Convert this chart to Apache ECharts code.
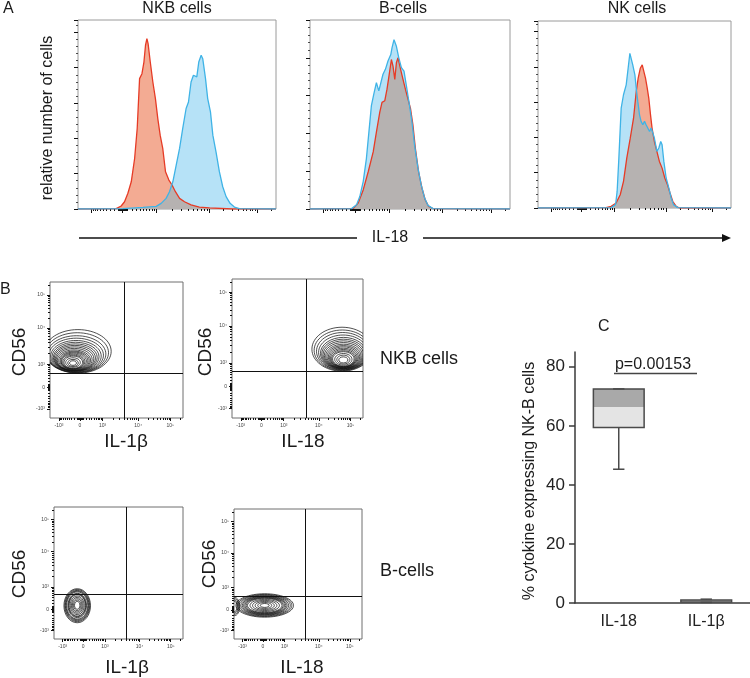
<!DOCTYPE html>
<html><head><meta charset="utf-8">
<script src="https://cdn.jsdelivr.net/npm/echarts@6/dist/echarts.min.js"></script>
<style>html,body{margin:0;padding:0;background:#fff}#c{width:750px;height:678px}</style>
</head><body><div id="c"></div>
<script>
// ---------- Panel A: histogram data (x = IL-18 display position 0-100, y = relative count) ----------
const nkbRed = [[0,0],[19.3,0.2],[21.8,1.7],[23.5,4.1],[25.2,8.9],[26.9,15.4],[28.6,28.6],[29.9,45.6],[31.1,73.8],[32.3,76.6],[33.3,83.2],[34.1,92.7],[34.8,96.4],[35.4,93.6],[36.5,83.2],[37.8,71.9],[39.1,62.5],[40.3,51.2],[41.5,41.8],[42.8,34.3],[44.2,21.1],[45.9,16.4],[47.5,13.6],[49.2,9.8],[51.3,6.0],[53.8,4.1],[57.1,2.3],[61.3,1.1],[66.4,0.6],[78.1,0],[100,0]];
const nkbBlue = [[0,0],[22.7,0.2],[32.8,0.9],[39.5,1.5],[42,3.2],[44.5,6],[46.2,9.8],[47.9,15.4],[49.6,24.9],[51.3,34.3],[52.9,45.6],[54.6,56.9],[55.8,60.6],[57.1,71.9],[58.3,75.7],[59.3,76.6],[60,74.8],[61,83.2],[62.2,87],[63,85.1],[64.4,73.8],[65.5,62.5],[66.9,55],[68.1,41.8],[69.7,32.4],[71.4,21.1],[73.1,12.6],[74.8,7],[76.8,3.2],[79,1.1],[81.5,0.2],[100,0]];
const nkbOverlap = [[0,0],[22.7,0.2],[32.8,0.9],[39.5,1.5],[42,3.2],[44.5,6],[46.2,9.8],[47.3,13.8],[49.2,9.8],[51.3,6],[53.8,4.1],[57.1,2.3],[61.3,1.1],[66.4,0.6],[78.1,0],[100,0]];

const bRed = [[0,0],[21.6,0.3],[24.1,3.1],[26.6,10.1],[29.1,19.7],[31.6,30.2],[33.2,40.7],[34.9,51.2],[36,56.4],[37.4,57.3],[38.5,63.4],[39.5,70.4],[40.7,79.1],[41.5,75.6],[42.4,68.6],[43.2,77.4],[44,80],[45.3,73.9],[46.5,68.6],[47.7,63.4],[49,58.2],[50.3,52.9],[51.5,44.2],[52.7,32],[54.3,19.7],[56,11],[57.6,4.9],[59.3,1.4],[61.5,0.2],[62,0],[100,0]];
const bBlue = [[0,0],[20.8,0.2],[23.3,2.3],[24.9,6.6],[26.6,14.5],[28.2,26.7],[29.6,42.4],[30.7,54.7],[31.9,60.8],[33.2,66.9],[34.4,62.5],[35.4,63.4],[36.5,71.3],[37.7,73.9],[39,78.3],[40.4,81.7],[41,85.2],[42,89.6],[43.2,86.1],[44.4,80],[45.7,74.8],[47,73],[48.2,65.2],[49.5,56.4],[51,45.9],[52.3,33.7],[54,21.5],[55.6,12.8],[57.3,5.8],[59,1.9],[61.5,0.2],[62,0],[100,0]];
const bOverlap = [[0,0],[21.6,0.3],[24.1,3.1],[26.6,10.1],[29.1,19.7],[31.6,30.2],[33.2,40.7],[34.9,51.2],[36,56.4],[37.4,57.3],[38.5,63.4],[39.5,70.4],[40.7,79.1],[41.5,75.6],[42.4,68.6],[43.2,77.4],[44,80],[45.3,73.9],[46.5,68.6],[47.7,63.4],[49,58.2],[49.5,56.4],[51,45.9],[52.3,33.7],[54,21.5],[55.6,12.8],[57.3,5.8],[59,1.9],[61.5,0.2],[62,0],[100,0]];

const nkRed = [[0,0],[35.3,0.2],[37.9,0.9],[40.5,2.8],[42.6,7.5],[44.3,15.1],[46,28.3],[47.8,39.6],[49.5,50.9],[50.9,66],[51.9,73.6],[53,79.2],[54,81.1],[54.8,80.2],[55.7,73.6],[56.6,67.9],[57.4,62.3],[58.3,52.8],[59.1,45.3],[60.3,37.7],[61.6,32.1],[62.9,26.4],[64.3,22.6],[65.7,17],[67.1,13.2],[68.4,8.5],[69.8,3.8],[71.6,0.9],[73.3,0],[100,0]];
const nkBlue = [[0,0],[37.9,0.2],[40.2,1.9],[41,9.4],[41.9,28.3],[43.1,56.6],[44.3,64.2],[45.7,69.8],[46.7,79.2],[47.6,87.7],[48.3,86.8],[49.1,81.1],[50.2,75.5],[50.9,67.9],[51.7,60.4],[52.6,52.8],[53.4,49.1],[54.3,47.2],[55.2,49.1],[56,47.2],[56.9,46.2],[57.8,43.4],[58.6,45.3],[59.5,42.5],[60.3,39.6],[61.6,32.1],[62.6,34],[63.6,37.7],[64.3,35.8],[65.2,26.4],[66.4,17],[67.8,11.3],[69,5.7],[70.2,1.9],[72.4,0.2],[100,0]];
const nkOverlap = [[0,0],[35.3,0.2],[37.9,0.2],[40.5,2.6],[42.6,7.5],[44.3,15.1],[46,28.3],[47.8,39.6],[49.5,50.9],[50.9,66],[51.7,60.4],[52.6,52.8],[53.4,49.1],[54.3,47.2],[55.2,49.1],[56,47.2],[56.9,46.2],[57.8,43.4],[58.6,45.3],[59.5,42.5],[60.3,37.7],[61.6,32.1],[62.9,26.4],[64.3,22.6],[65.7,17],[67.1,13.2],[68.4,8.5],[69.8,3.2],[71.6,0.9],[73.3,0],[100,0]];

const histTitles = ['NKB cells', 'B-cells', 'NK cells'];
const histYMax = [107, 100, 106];

// ---------- Panel B: contour levels [centerX, centerY, halfWidthX, halfWidthY] in display units ----------
const p1Contours = [[21,49,25,16],[20.5,48,23.5,14.7],[20,47,22,13.5],[19.7,46.2,20.5,12.5],[19.5,45.5,19,11.5],[19.2,45,17.7,10.7],[19,44.5,16.5,10],[18.7,44,15.5,9.4],[18.5,43.5,14.5,8.8],[18.2,43,13.5,8.2],[18,42.5,12.5,7.6],[18,42.2,11.5,7],[18,42,10.5,6.5],[17.8,41.8,9.6,6],[17.5,41.5,8.8,5.5],[17.5,41.2,7.9,5],[17.5,41,7,4.5],[17.3,40.8,5.5,3.5],[17.3,40.5,4,2.6],[17.3,40.4,2.6,1.7]];
const p2Contours = [[84,49.5,23,15.8],[84.2,48.7,21.5,14.6],[84.5,48,20,13.5],[84.8,47.2,18.7,12.5],[85,46.5,17.5,11.5],[85,46,16.5,10.7],[85,45.5,15.5,10],[85,45,14.5,9.3],[85,44.5,13.5,8.6],[85,44.1,12.5,8],[85,43.8,11.5,7.4],[85,43.4,10.6,6.8],[85,43,9.8,6.3],[85,42.7,9,5.7],[85,42.5,8.2,5.2],[85,42.2,6.6,4.2],[85,42,5,3.2],[85,41.8,3.5,2.2]];
const p3Contours = [[18,25.2,10.3,12.9],[18,25.3,9.7,12.2],[18,25.3,9.2,11.5],[18,25.4,8.7,10.9],[18,25.4,8.2,10.3],[18,25.4,7.2,9.2],[18,25.5,6.7,8.6],[18,25.5,6.3,8.1],[18,25.5,5.4,7],[18,25.5,4.5,6],[18,25.5,3.7,5],[18,25.5,2.9,4],[18,25.5,2.1,3]];
const p4Contours = [[24,25.8,22.5,9],[24,25.8,21.2,8.5],[24,25.8,20,8],[24,25.8,18.7,7.5],[24,25.8,17.5,7.1],[24,25.8,16.5,6.7],[24,25.8,15.5,6.3],[24,25.8,14.5,5.9],[24,25.8,13.5,5.5],[24,25.8,11.5,4.7],[24,25.8,9.5,3.9],[24,25.8,7.5,3.1],[24,25.8,5.5,2.3],[24,25.8,3.5,1.5],[0.5,25,4,7],[0.5,25,3.3,6],[0.5,25,2.6,5],[0.5,25,1.8,4]];
const gatesX = [55.8, 56.5, 56, 55.8];
const gatesY = [32.9, 33.7, 33.6, 32.8];
const dotXNames = ['IL-1β', 'IL-18', 'IL-1β', 'IL-18'];
const dotRowNames = ['NKB cells', 'B-cells'];

// axis tick values (fluorescence scale) and labels
const majorVals = [-1000, 0, 1000, 10000, 100000];
const minorVals = [-900,-800,-700,-600,-500,-400,-300,-200,-100,-90,-80,-70,-60,-50,-40,-30,-20,-10,
  10,20,30,40,50,60,70,80,90,100,200,300,400,500,600,700,800,900,
  2000,3000,4000,5000,6000,7000,8000,9000,20000,30000,40000,50000,60000,70000,80000,90000,200000];
const tickLabels = ['-10³', '0', '10³', '10⁴', '10⁵'];

// ---------- Panel C: box plot ----------
const cCats = ['IL-18', 'IL-1β'];
const cStats = [[45.3, 59.4, 66.4, 72.5, 72.5], [0.2, 0.3, 0.7, 1.0, 1.3]]; // min, q1, median, q3, max
const cYTicks = [0, 20, 40, 60, 80];
const pText = 'p=0.00153';

// ---------- build ----------
const FONT = 'Liberation Sans, Arial, sans-serif';
function scalePos(v) { // biexponential-like display transform used for tick placement
  const k = Math.asinh(1000 / 446);
  if (v >= 10000) return 66.3 + 24.2 * Math.log10(v / 10000);
  if (v >= 1000) return 39.5 + 26.8 * Math.log10(v / 1000);
  if (v >= 0) return 22.5 + 17 * Math.asinh(v / 446) / k;
  return 22.5 - 15.8 * Math.asinh(-v / 446) / k;
}
const majorPos = majorVals.map(scalePos);
const minorPos = minorVals.map(scalePos);
const labelFor = val => { const i = majorPos.findIndex(p => Math.abs(p - val) < 0.01); return i >= 0 ? tickLabels[i] : ''; };

const grids = [
  {left:78, top:20, width:198, height:189},
  {left:310, top:20, width:200, height:189},
  {left:538, top:21, width:193, height:187},
  {left:50, top:282, width:133, height:136},
  {left:232, top:279, width:131, height:139},
  {left:54, top:507, width:129, height:132},
  {left:234, top:509, width:128, height:130},
  {left:575, top:352, width:175, height:251}
].map((g, i) => Object.assign({show: i < 7, borderColor: i < 3 ? '#9a9a9a' : '#6e6e6e', borderWidth: 1, backgroundColor: 'transparent', containLabel: false, outerBoundsMode: 'none'}, g));

const xAxes = [], yAxes = [], series = [];
const tickStyle = {color: '#111', width: 1};
function fcsX(gi, withLabels) {
  xAxes.push({type:'value', gridIndex:gi, min:0, max:100, position:'bottom', axisLine:{show:false}, splitLine:{show:false},
    axisTick:{show:true, customValues:majorPos, length: gi < 3 ? 4 : 3, lineStyle:tickStyle},
    axisLabel: withLabels ? {show:true, customValues:majorPos, formatter:labelFor, fontSize:5, color:'#444', margin:5, fontFamily:FONT} : {show:false}});
  xAxes.push({type:'value', gridIndex:gi, min:0, max:100, position:'bottom', axisLine:{show:false}, splitLine:{show:false},
    axisTick:{show:true, customValues:minorPos, length:2, lineStyle:tickStyle}, axisLabel:{show:false}});
}
function fcsY(gi) {
  yAxes.push({type:'value', gridIndex:gi, min:0, max:100, position:'left', axisLine:{show:false}, splitLine:{show:false},
    axisTick:{show:true, customValues:majorPos, length:3, lineStyle:tickStyle},
    axisLabel:{show:true, customValues:majorPos, formatter:labelFor, fontSize:5, color:'#444', margin:5, fontFamily:FONT}});
  yAxes.push({type:'value', gridIndex:gi, min:0, max:100, position:'left', axisLine:{show:false}, splitLine:{show:false},
    axisTick:{show:true, customValues:minorPos, length:2, lineStyle:tickStyle}, axisLabel:{show:false}});
}

// Panel A
const histSets = [[nkbRed, nkbBlue, nkbOverlap], [bRed, bBlue, bOverlap], [nkRed, nkBlue, nkOverlap]];
histSets.forEach((set, gi) => {
  fcsX(gi, false);
  const xi = xAxes.length - 2;
  yAxes.push({type:'value', gridIndex:gi, min:0, max:histYMax[gi], interval:20, axisLine:{show:false}, splitLine:{show:false},
    axisTick:{show:true, length:4, lineStyle:tickStyle}, minorTick:{show:true, splitNumber:5, length:2, lineStyle:{color:'#222', width:0.8}},
    minorSplitLine:{show:false}, axisLabel:{show:false}});
  const yi = yAxes.length - 1;
  const base = {type:'line', xAxisIndex:xi, yAxisIndex:yi, showSymbol:false, symbol:'none', silent:true, animation:false, smooth:false};
  series.push(Object.assign({}, base, {name:'blueFill'+gi, data:set[1], lineStyle:{width:0, opacity:0}, areaStyle:{color:'#b6e2f7', opacity:1}}));
  series.push(Object.assign({}, base, {name:'redFill'+gi, data:set[0], lineStyle:{width:0, opacity:0}, areaStyle:{color:'#f3ab93', opacity:1}}));
  series.push(Object.assign({}, base, {name:'overlap'+gi, data:set[2], lineStyle:{width:0, opacity:0}, areaStyle:{color:'#b6b2b1', opacity:1}}));
  series.push(Object.assign({}, base, {name:'redLine'+gi, data:set[0], lineStyle:{width:1.3, color:'#e63b26'}}));
  series.push(Object.assign({}, base, {name:'blueLine'+gi, data:set[1], lineStyle:{width:1.3, color:'#3fb3e6'}}));
});

// Panel B
const contourSets = [p1Contours, p2Contours, p3Contours, p4Contours];
contourSets.forEach((cs, k) => {
  const gi = 3 + k;
  fcsX(gi, true); const xi = xAxes.length - 2;
  fcsY(gi); const yi = yAxes.length - 2;
  series.push({type:'custom', xAxisIndex:xi, yAxisIndex:yi, clip:true, silent:true, animation:false, data:cs,
    renderItem: (params, api) => {
      const c = api.coord([api.value(0), api.value(1)]);
      const s = api.size([api.value(2), api.value(3)]);
      return {type:'ellipse', shape:{cx:c[0], cy:c[1], rx:s[0], ry:s[1]}, style:{fill:'none', stroke:'#151515', lineWidth:0.75}};
    },
    markLine:{silent:true, symbol:'none', animation:false, label:{show:false}, lineStyle:{color:'#111', width:1, type:'solid'},
      data:[{xAxis:gatesX[k]}, {yAxis:gatesY[k]}]}
  });
});

// Panel C
xAxes.push({type:'category', gridIndex:7, data:cCats, axisLine:{show:true, lineStyle:{color:'#3a3a3a', width:1.5}},
  axisTick:{show:false}, axisLabel:{fontSize:16, color:'#222', margin:11, fontFamily:FONT}, splitLine:{show:false}});
const cxi = xAxes.length - 1;
yAxes.push({type:'value', gridIndex:7, min:0, max:85, axisLine:{show:true, lineStyle:{color:'#3a3a3a', width:1.5}},
  axisTick:{show:true, customValues:cYTicks, length:6, lineStyle:{color:'#3a3a3a', width:1.5}},
  axisLabel:{show:true, customValues:cYTicks, fontSize:17, color:'#222', margin:10, fontFamily:FONT}, splitLine:{show:false}});
const cyi = yAxes.length - 1;
series.push({type:'custom', xAxisIndex:cxi, yAxisIndex:cyi, silent:true, animation:false, clip:false,
  data: cCats.map((c, i) => [i].concat(cStats[i])),
  encode:{x:0, y:[1,2,3,4,5]},
  renderItem: (params, api) => {
    const i = api.value(0);
    const y = v => api.coord([i, v])[1];
    const x = api.coord([i, api.value(2)])[0];
    const band = api.size([1, 0])[0];
    const w = band * 0.58, cap = band * 0.13;
    const yMn = y(api.value(1)), yQ1 = y(api.value(2)), yMd = y(api.value(3)), yQ3 = y(api.value(4)), yMx = y(api.value(5));
    const ls = {stroke:'#4a4a4a', lineWidth:1.5};
    return {type:'group', children:[
      {type:'rect', shape:{x:x-w/2, y:yMd, width:w, height:yQ1-yMd}, style:{fill:'#e4e4e4'}},
      {type:'rect', shape:{x:x-w/2, y:yQ3, width:w, height:yMd-yQ3}, style:{fill:'#a9a9a9'}},
      {type:'line', shape:{x1:x, y1:yQ1, x2:x, y2:yMn}, style:ls},
      {type:'line', shape:{x1:x-cap/2, y1:yMn, x2:x+cap/2, y2:yMn}, style:ls},
      {type:'line', shape:{x1:x, y1:yQ3, x2:x, y2:yMx}, style:ls},
      {type:'line', shape:{x1:x-cap/2, y1:yMx, x2:x+cap/2, y2:yMx}, style:ls},
      {type:'rect', shape:{x:x-w/2, y:yQ3, width:w, height:yQ1-yQ3}, style:{fill:'none', stroke:'#4a4a4a', lineWidth:1.5}}
    ]};
  }
});

// ---------- annotation text ----------
function txt(text, x, y, size, opts) {
  opts = opts || {};
  return {type:'text', x:x, y:y, rotation: opts.rot || 0, silent:true,
    style:{text:text, fontSize:size, fontFamily:FONT, fill: opts.color || '#1a1a1a',
      align: opts.align || 'center', textAlign: opts.align || 'center', verticalAlign:'middle', textVerticalAlign:'middle'}};
}
const V = Math.PI / 2;
const elements = [
  txt('A', 3, 9, 16, {align:'left'}),
  txt(histTitles[0], 177, 9, 16), txt(histTitles[1], 403, 9, 16), txt(histTitles[2], 637, 9, 16),
  txt('relative number of cells', 48, 118, 16, {rot:V}),
  {type:'line', silent:true, shape:{x1:79, y1:238, x2:357, y2:238}, style:{stroke:'#111', lineWidth:1.3}},
  {type:'line', silent:true, shape:{x1:423, y1:238, x2:724, y2:238}, style:{stroke:'#111', lineWidth:1.3}},
  {type:'polygon', silent:true, shape:{points:[[722,234],[731,238],[722,242]]}, style:{fill:'#111'}},
  txt('IL-18', 390, 238, 16),
  txt('B', 0, 290, 16, {align:'left'}),
  txt('CD56', 20, 352, 19, {rot:V}), txt('CD56', 206, 352, 19, {rot:V}),
  txt('CD56', 20, 574, 19, {rot:V}), txt('CD56', 210, 564, 19, {rot:V}),
  txt(dotXNames[0], 126, 442, 19), txt(dotXNames[1], 303, 442, 19),
  txt(dotXNames[2], 127, 668, 19), txt(dotXNames[3], 302, 668, 19),
  txt(dotRowNames[0], 380, 359, 18, {align:'left'}), txt(dotRowNames[1], 380, 571, 18, {align:'left'}),
  txt('C', 598, 327, 16, {align:'left'}),
  txt('% cytokine expressing NK-B cells', 530, 481, 16, {rot:V}),
  txt(pText, 653, 365, 16),
  {type:'line', silent:true, shape:{x1:614, y1:373.5, x2:697, y2:373.5}, style:{stroke:'#444', lineWidth:1.5}}
];

const chart = echarts.init(document.getElementById('c'), null, {renderer:'canvas'});
chart.setOption({animation:false, backgroundColor:'#fff', grid:grids, xAxis:xAxes, yAxis:yAxes, series:series, graphic:{elements:elements}});
</script></body></html>
